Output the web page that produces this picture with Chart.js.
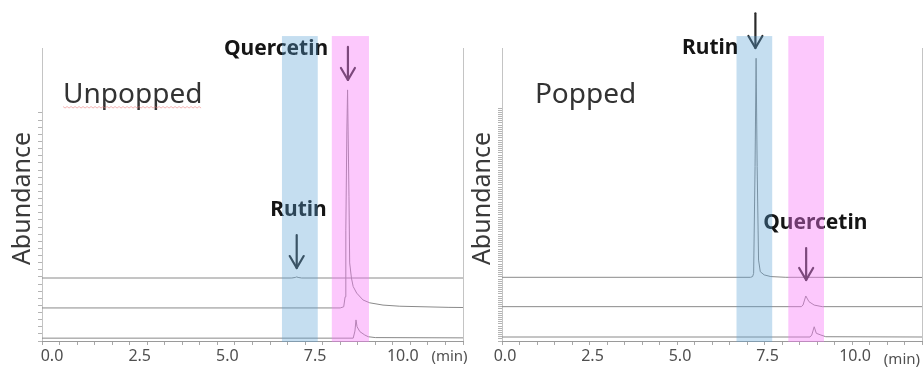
<!DOCTYPE html>
<html><head><meta charset="utf-8">
<script src="https://cdn.jsdelivr.net/npm/chart.js@4/dist/chart.umd.min.js"></script>
<style>
html,body{margin:0;padding:0;background:#fff;width:924px;height:367px;overflow:hidden}
canvas{position:absolute;left:0;top:0}
</style></head>
<body>
<canvas id="c1" width="924" height="367" style="width:924px;height:367px"></canvas>
<canvas id="c2" width="924" height="367" style="width:924px;height:367px"></canvas>
<script>
// ---------- DATA ----------
const xTickValues = [0, 2.5, 5, 7.5, 10];
const xTickLabels = ['0.0', '2.5', '5.0', '7.5', '10.0'];

// Unpopped panel (retention time in min, abundance in arbitrary stacked units)
const unpoppedTrace1Time  = [0, 7.12, 7.22, 7.26, 7.30, 7.40, 12];
const unpoppedTrace1Abund = [22.1, 22.1, 22.3, 22.5, 22.3, 22.1, 22.1];
const unpoppedTrace2Time  = [0, 8.50, 8.60, 8.64, 8.66, 8.69, 8.71, 8.75, 8.77, 8.82, 8.87, 8.97, 9.15, 9.34, 9.72, 10.2, 11.6, 12];
const unpoppedTrace2Abund = [11.6, 11.6, 12.0, 15.5, 38.9, 74.0, 88.1, 50.6, 27.4, 22.1, 19.1, 16.8, 14.4, 13.4, 12.6, 12.2, 11.8, 11.75];
const unpoppedTrace3Time  = [0, 8.87, 8.92, 8.95, 8.98, 9.06, 9.20, 9.30, 9.50, 12];
const unpoppedTrace3Abund = [1.0, 1.0, 3.5, 7.4, 5.0, 3.3, 2.1, 1.5, 1.2, 1.1];
const unpoppedRutinBand = [6.84, 7.86];
const unpoppedQuercetinBand = [8.26, 9.32];

// Popped panel
const poppedTrace1Time  = [0, 7.10, 7.16, 7.19, 7.23, 7.26, 7.29, 7.33, 7.38, 7.49, 7.68, 8.11, 12];
const poppedTrace1Abund = [22.35, 22.35, 22.6, 23.75, 61.2, 99.2, 61.2, 28.4, 24.3, 23.2, 22.6, 22.35, 22.3];
const poppedTrace2Time  = [0, 8.55, 8.60, 8.68, 8.77, 8.92, 9.15, 12];
const poppedTrace2Abund = [12.05, 12.05, 12.6, 15.8, 13.8, 12.6, 12.05, 12.05];
const poppedTrace3Time  = [0, 8.80, 8.85, 8.92, 8.98, 9.11, 9.25, 12];
const poppedTrace3Abund = [1.4, 1.4, 2.1, 5.0, 2.7, 2.1, 1.5, 1.4];
const poppedRutinBand = [6.70, 7.72];
const poppedQuercetinBand = [8.18, 9.20];

// ---------- STYLE / LAYOUT ----------
const FAM = '"Noto Sans", "DejaVu Sans", sans-serif';
const BLUE_BAND = 'rgba(89,161,212,0.35)';
const PINK_BAND = 'rgba(247,117,247,0.40)';

const decorPlugin = {
  id: 'decor',
  beforeDatasetsDraw(chart, args, o) {
    const {ctx, chartArea: a, scales: {y}} = chart;
    const top = y.getPixelForValue(o.frameTop);
    ctx.save();
    ctx.strokeStyle = '#c4c4c4'; ctx.lineWidth = 1;
    [a.left, a.right].forEach(px => {
      const xx = Math.round(px) + 0.5;
      ctx.beginPath(); ctx.moveTo(xx, top); ctx.lineTo(xx, a.bottom); ctx.stroke();
    });
    ctx.restore();
  },
  afterDraw(chart, args, o) {
    const {ctx, chartArea: a, scales: {x, y}} = chart;
    ctx.save();
    // panel title
    ctx.font = '28px ' + FAM; ctx.fillStyle = '#333'; ctx.textAlign = 'left'; ctx.textBaseline = 'middle';
    const tx = x.getPixelForValue(o.title.x), ty = y.getPixelForValue(o.title.y);
    ctx.fillText(o.title.text, tx, ty);
    if (o.title.underline) {
      const w = ctx.measureText(o.title.text).width;
      const uy = ty + 12;
      ctx.strokeStyle = 'rgba(235,120,120,0.55)'; ctx.lineWidth = 1;
      ctx.beginPath();
      for (let i = 0; i <= w; i += 2) { const yy = uy + ((i / 2) % 2 ? 1 : -0.5); i === 0 ? ctx.moveTo(tx + i, yy) : ctx.lineTo(tx + i, yy); }
      ctx.stroke();
    }
    // (min) unit label
    ctx.font = '15px ' + FAM; ctx.fillStyle = '#505050'; ctx.textAlign = 'left';
    ctx.fillText('(min)', x.getPixelForValue(o.unit.x), a.bottom + o.unit.dy);
    // compound labels
    ctx.font = 'bold 21px ' + FAM; ctx.fillStyle = '#151515'; ctx.textAlign = 'center';
    o.labels.forEach(l => ctx.fillText(l.text, x.getPixelForValue(l.x), y.getPixelForValue(l.y)));
    // arrows
    ctx.strokeStyle = '#2a2a2a'; ctx.lineWidth = 2.2; ctx.lineCap = 'round'; ctx.lineJoin = 'round';
    o.arrows.forEach(ar => {
      const px = x.getPixelForValue(ar.x), y0 = y.getPixelForValue(ar.y0), y1 = y.getPixelForValue(ar.y1);
      ctx.beginPath(); ctx.moveTo(px, y0); ctx.lineTo(px, y1); ctx.stroke();
      ctx.beginPath(); ctx.moveTo(px - 7, y1 - 12); ctx.lineTo(px, y1); ctx.lineTo(px + 7, y1 - 12); ctx.stroke();
    });
    // translucent retention-time bands on top
    const bTop = y.getPixelForValue(o.bandTop);
    o.bands.forEach(b => {
      const x0 = x.getPixelForValue(b.range[0]), x1 = x.getPixelForValue(b.range[1]);
      ctx.fillStyle = b.color;
      ctx.fillRect(x0, bTop, x1 - x0, a.bottom + 1 - bTop);
    });
    ctx.restore();
  }
};

function makeChart(id, cfg) {
  return new Chart(document.getElementById(id), {
    type: 'line',
    data: {
      datasets: cfg.traces.map(tr => ({
        data: tr[0].map((t, i) => ({x: t, y: tr[1][i]})),
        borderColor: '#8a8a8a', borderWidth: 1, pointRadius: 0, tension: 0, fill: false
      }))
    },
    options: {
      responsive: false, animation: false, devicePixelRatio: 1,
      layout: {padding: {left: cfg.padLeft, right: cfg.padRight, top: 56, bottom: 0}},
      plugins: {legend: {display: false}, tooltip: {enabled: false}, decor: cfg.decor},
      scales: {
        x: {
          type: 'linear', min: 0, max: 12,
          afterFit(s) { s.height = 26; },
          ticks: {
            stepSize: 0.5, autoSkip: false, maxRotation: 0, minRotation: 0,
            labelOffset: cfg.labelOffset, padding: 2, color: '#4f4f4f',
            font: {family: FAM, size: 16},
            callback(v) {
              const k = xTickValues.findIndex(t => Math.abs(t - v) < 1e-6);
              return k >= 0 ? xTickLabels[k] : '';
            }
          },
          grid: {drawOnChartArea: false, tickLength: 4, color: '#a8a8a8'},
          border: {color: '#9a9a9a'}
        },
        y: {
          type: 'linear', min: 0, max: 100,
          afterFit(s) { s.width = 42; },
          afterBuildTicks(s) { s.ticks = s.ticks.filter(t => t.value <= 82); },
          ticks: {display: false, stepSize: cfg.yStep},
          grid: {drawOnChartArea: false, tickLength: 4, color: '#b4b4b4'},
          border: {display: false},
          title: {display: true, text: 'Abundance', color: '#3a3a3a', font: {family: FAM, size: 25}, padding: {top: 8, bottom: 0}}
        }
      }
    },
    plugins: [decorPlugin]
  });
}

makeChart('c1', {
  padLeft: 0, padRight: 461, labelOffset: 10, yStep: 2.5,
  traces: [[unpoppedTrace1Time, unpoppedTrace1Abund], [unpoppedTrace2Time, unpoppedTrace2Abund], [unpoppedTrace3Time, unpoppedTrace3Abund]],
  decor: {
    frameTop: 102.8, bandTop: 107,
    title: {text: 'Unpopped', x: 0.6, y: 86.3, underline: true},
    unit: {x: 11.1, dy: 16},
    labels: [{text: 'Quercetin', x: 6.67, y: 102.5}, {text: 'Rutin', x: 7.31, y: 46}],
    arrows: [{x: 8.72, y0: 103.2, y1: 91.6}, {x: 7.26, y0: 37.2, y1: 25.6}],
    bands: [{range: unpoppedRutinBand, color: BLUE_BAND}, {range: unpoppedQuercetinBand, color: PINK_BAND}]
  }
});

makeChart('c2', {
  padLeft: 460, padRight: 1, labelOffset: 3, yStep: 0.75,
  traces: [[poppedTrace1Time, poppedTrace1Abund], [poppedTrace2Time, poppedTrace2Abund], [poppedTrace3Time, poppedTrace3Abund]],
  decor: {
    frameTop: 102.8, bandTop: 107,
    title: {text: 'Popped', x: 0.94, y: 86.3, underline: false},
    unit: {x: 10.91, dy: 19},
    labels: [{text: 'Rutin', x: 5.95, y: 102.8}, {text: 'Quercetin', x: 8.95, y: 41.4}],
    arrows: [{x: 7.24, y0: 115, y1: 102.8}, {x: 8.69, y0: 32.6, y1: 21.4}],
    bands: [{range: poppedRutinBand, color: BLUE_BAND}, {range: poppedQuercetinBand, color: PINK_BAND}]
  }
});
</script>
</body></html>
